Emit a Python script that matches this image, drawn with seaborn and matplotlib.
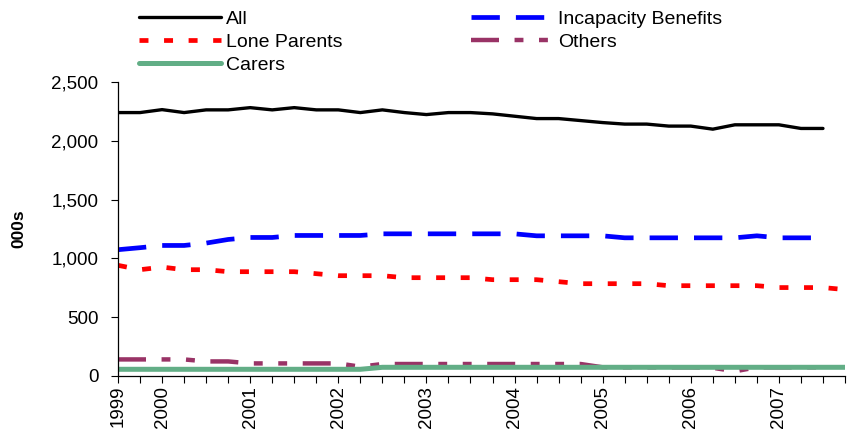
import matplotlib
matplotlib.use("Agg")
import matplotlib.pyplot as plt
import seaborn as sns
import numpy as np
from matplotlib.ticker import FuncFormatter

# ---- data (thousands, quarterly from 1999) ----
x_labels = ["1999", "", "2000", "", "", "", "2001", "", "", "", "2002", "", "", "",
            "2003", "", "", "", "2004", "", "", "", "2005", "", "", "", "2006", "", "",
            "", "2007", "", "", ""]

all_claimants = [2240, 2240, 2265, 2240, 2263, 2263, 2282, 2263, 2282, 2263, 2263, 2240,
                 2263, 2240, 2223, 2240, 2240, 2229, 2209, 2189, 2189, 2172, 2155, 2142,
                 2142, 2125, 2125, 2099, 2136, 2136, 2136, 2105, 2105]
incapacity = [1074, 1091, 1110, 1110, 1130, 1161, 1178, 1178, 1195, 1195, 1195, 1195,
              1209, 1209, 1209, 1209, 1209, 1209, 1209, 1192, 1192, 1192, 1192, 1175,
              1175, 1175, 1175, 1175, 1175, 1192, 1175, 1175, 1175]
lone_parents = [941, 904, 926, 904, 904, 887, 887, 887, 887, 870, 853, 853, 853, 836,
                836, 836, 836, 819, 819, 819, 802, 785, 785, 785, 785, 768, 768, 768,
                768, 768, 752, 752, 752, 735]
others = [141, 141, 141, 141, 124, 124, 107, 107, 107, 107, 107, 79, 102, 102, 102,
          102, 102, 102, 102, 102, 102, 102, 74, 74, 74, 74, 74, 70, 40, 74, 74, 74, 74]
carers = [57, 57, 57, 57, 57, 57, 57, 57, 57, 57, 57, 57, 74, 74, 74, 74, 74, 74, 74,
          74, 74, 74, 74, 74, 74, 74, 74, 74, 74, 74, 74, 74, 74, 74]

series = [
    ("All", all_claimants, "#000000", 2.4, "-"),
    ("Incapacity Benefits", incapacity, "#0000FF", 3.4, (0, (6.0, 3.4))),
    ("Lone Parents", lone_parents, "#FF0000", 3.4, (0, (1.9, 3.3))),
    ("Others", others, "#993366", 3.2, (0, (6.3, 3.5, 2.0, 3.5, 2.0, 3.5))),
    ("Carers", carers, "#62AE86", 3.6, "-"),
]

sns.set_style("ticks")
plt.rcParams["font.family"] = ["Liberation Sans", "DejaVu Sans"]
plt.rcParams["text.color"] = "black"
plt.rcParams["xtick.color"] = "black"
plt.rcParams["ytick.color"] = "black"
plt.rcParams["axes.labelcolor"] = "black"

fig = plt.figure(figsize=(8.53, 4.43), dpi=100)
ax = fig.add_axes([118 / 853, 1 - 376 / 443, (845 - 118) / 853, (376 - 82) / 443])

handles = {}
for name, vals, color, lw, ls in series:
    xs = np.arange(len(vals))
    sns.lineplot(x=xs, y=vals, ax=ax, color=color, linewidth=lw, linestyle=ls,
                 label=name, legend=False)
    handles[name] = ax.lines[-1]

ax.set_xlim(0, len(x_labels) - 1)
ax.set_ylim(0, 2500)
ax.set_yticks(np.arange(0, 2501, 500))
ax.yaxis.set_major_formatter(FuncFormatter(lambda v, p: f"{int(v):,}"))
ax.set_xticks(np.arange(len(x_labels)))
ax.set_xticklabels(x_labels, rotation=90, fontsize=13.5)
ax.tick_params(axis="y", labelsize=13.5, length=5, width=0.8, pad=9,
               color="black", labelcolor="black")
ax.tick_params(axis="x", length=5, width=0.8, pad=2, color="black", labelcolor="black")
for sp in ["top", "right"]:
    ax.spines[sp].set_visible(False)
for sp in ["left", "bottom"]:
    ax.spines[sp].set_color("black")
    ax.spines[sp].set_linewidth(0.9)
ax.set_xlabel("")
ax.set_ylabel("")

fig.text(19 / 853, 1 - 229 / 443, "000s", rotation=90, ha="center", va="center",
         fontsize=12.5, fontweight="bold", color="black")

order = ["All", "Lone Parents", "Carers", "Incapacity Benefits", "Others"]
leg = fig.legend([handles[n] for n in order], order, ncol=2, loc="upper left",
                 bbox_to_anchor=(139 / 853, 1 - 10 / 443), frameon=False, fontsize=14,
                 handlelength=4.2, handletextpad=0.27, columnspacing=6.6,
                 labelspacing=0.28, borderpad=0, borderaxespad=0)
for t in leg.get_texts():
    t.set_color("black")

fig.savefig("out.png", dpi=100)
